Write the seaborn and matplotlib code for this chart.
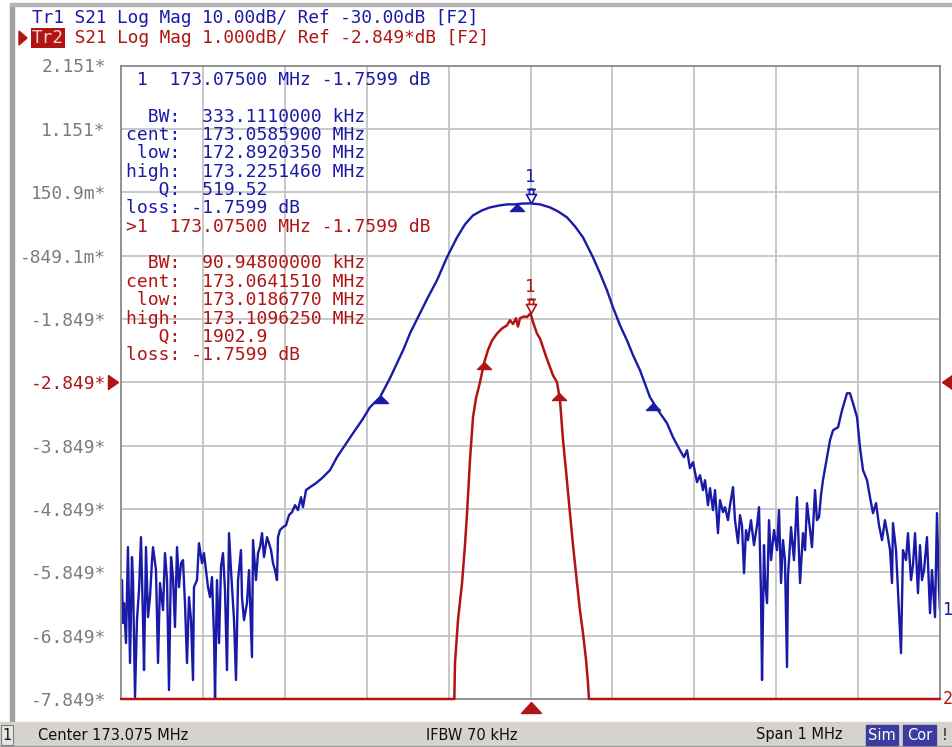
import numpy as np
import pandas as pd
import seaborn as sns
import matplotlib.pyplot as plt
from matplotlib.path import Path
from matplotlib.patches import Rectangle, Polygon

# ---------------- sweep / scale settings ----------------
start_mhz = 172.575
stop_mhz = 173.575
center_mhz = 173.075
n_div = 10
ref_pos = 5          # reference line, divisions from the bottom

tr1_ref, tr1_scale = -30.0, 10.0     # Tr1: 10 dB/div, ref -30 dB
tr2_ref, tr2_scale = -2.849, 1.0     # Tr2: 1 dB/div, ref -2.849 dB

ytick_labels = ["2.151*", "1.151*", "150.9m*", "-849.1m*", "-1.849*", "-2.849*",
                "-3.849*", "-4.849*", "-5.849*", "-6.849*", "-7.849*"]

# ---------------- Tr1 (blue) S21 trace ----------------
tr1_freq = [
    172.5750, 172.5762, 172.5774, 172.5787, 172.5811, 172.5835, 172.5860, 172.5884, 172.5897, 172.5921,
    172.5945, 172.5970, 172.5994, 172.6019, 172.6031, 172.6055, 172.6080, 172.6104, 172.6129, 172.6141,
    172.6177, 172.6202, 172.6226, 172.6263, 172.6287, 172.6312, 172.6336, 172.6361, 172.6385, 172.6409,
    172.6434, 172.6458, 172.6483, 172.6507, 172.6531, 172.6556, 172.6580, 172.6605, 172.6629, 172.6641,
    172.6678, 172.6702, 172.6739, 172.6763, 172.6788, 172.6812, 172.6837, 172.6861, 172.6886, 172.6898,
    172.6922, 172.6947, 172.6971, 172.6995, 172.7020, 172.7044, 172.7069, 172.7093, 172.7130, 172.7154,
    172.7179, 172.7215, 172.7227, 172.7252, 172.7288, 172.7313, 172.7349, 172.7362, 172.7398, 172.7423,
    172.7447, 172.7472, 172.7496, 172.7533, 172.7557, 172.7582, 172.7606, 172.7630, 172.7655, 172.7667,
    172.7691, 172.7728, 172.7765, 172.7801, 172.7838, 172.7875, 172.7911, 172.7948, 172.7972, 172.8009,
    172.8058, 172.8131, 172.8204, 172.8302,
    172.8387, 172.8485, 172.8583, 172.8693, 172.8790, 172.8912, 172.9034, 172.9120, 172.9205, 172.9279,
    172.9401, 172.9498, 172.9608, 172.9730, 172.9853, 172.9950, 173.0048, 173.0158, 173.0255, 173.0378,
    173.0463, 173.0561, 173.0646, 173.0750, 173.0866, 173.0988, 173.1086, 173.1196, 173.1293, 173.1391,
    173.1513, 173.1599, 173.1684, 173.1757, 173.1843, 173.1928, 173.2002, 173.2087, 173.2209, 173.2307,
    173.2417, 173.2490, 173.2575,
    173.2624, 173.2661, 173.2697, 173.2734, 173.2783, 173.2820, 173.2856, 173.2881, 173.2917, 173.2942,
    173.2978, 173.3003, 173.3039, 173.3064, 173.3100, 173.3125, 173.3161, 173.3186, 173.3223, 173.3247,
    173.3284, 173.3308, 173.3332, 173.3357, 173.3381, 173.3406, 173.3442, 173.3479, 173.3516, 173.3540,
    173.3564, 173.3577, 173.3601, 173.3613, 173.3638, 173.3662, 173.3687, 173.3723, 173.3760, 173.3784,
    173.3809, 173.3833, 173.3857, 173.3882, 173.3894, 173.3918, 173.3931, 173.3967, 173.4004, 173.4041,
    173.4077, 173.4102, 173.4126, 173.4163, 173.4187, 173.4224, 173.4248, 173.4273, 173.4297, 173.4321,
    173.4370, 173.4407, 173.4444, 173.4505, 173.4554, 173.4614, 173.4651, 173.4688, 173.4737, 173.4773,
    173.4810, 173.4859, 173.4895, 173.4932, 173.4969, 173.5005, 173.5042, 173.5078, 173.5115, 173.5140,
    173.5164, 173.5176, 173.5213, 173.5249, 173.5274, 173.5298, 173.5335, 173.5359, 173.5396, 173.5420,
    173.5445, 173.5481, 173.5506, 173.5530, 173.5555, 173.5591, 173.5628, 173.5652, 173.5689, 173.5713,
    173.5738, 173.5750,
]
tr1_db = [
    -62.81, -61.23, -68.01, -64.86, -71.17, -56.03, -74.32, -57.60, -61.23, -79.69,
    -67.54, -62.81, -54.45, -67.54, -75.43, -56.03, -67.07, -63.91, -58.08, -56.03,
    -59.65, -74.32, -61.70, -65.96, -56.97, -61.23, -78.58, -57.60, -60.76, -68.64,
    -56.03, -62.34, -58.55, -58.08, -64.86, -74.32, -63.91, -67.54, -77.00, -62.34,
    -61.23, -55.40, -58.55, -56.97, -59.65, -62.34, -63.91, -60.76, -70.22, -80.16,
    -61.23, -71.17, -59.18, -56.97, -62.81, -75.43, -53.82, -59.65, -67.54, -77.00,
    -61.23, -56.50, -63.91, -67.54, -64.86, -59.65, -73.38, -54.92, -61.23, -56.97,
    -56.03, -53.82, -57.60, -54.45, -55.40, -56.50, -58.55, -59.65, -61.23, -54.45,
    -53.34, -52.87, -52.56, -50.98, -50.50, -49.40, -50.19, -48.14, -49.72, -47.03,
    -46.56, -45.93, -45.14, -43.88,
    -41.83, -39.94, -38.04, -35.99, -33.94, -32.37, -29.37, -27.00, -24.64, -22.27,
    -19.12, -16.59, -13.91, -10.28, -7.13, -5.08, -3.66, -2.87, -2.40, -2.08,
    -1.92, -1.92, -1.80, -1.76, -1.92, -2.40, -3.03, -3.98, -5.39, -7.13,
    -10.28, -12.81, -15.49, -18.17, -21.01, -23.38, -25.74, -28.11, -32.37, -34.42,
    -36.47, -38.68, -40.73,
    -41.83, -40.73, -43.56, -42.62, -45.77, -44.67, -47.03, -45.46, -49.40, -46.72,
    -50.19, -47.03, -53.82, -48.61, -50.50, -49.72, -51.77, -49.40, -46.56, -51.77,
    -55.40, -50.98, -52.56, -60.13, -53.34, -54.92, -51.77, -55.71, -52.56, -49.72,
    -63.28, -77.00, -55.71, -61.23, -64.86, -51.77, -58.08, -53.34, -56.50, -50.19,
    -61.70, -54.92, -58.08, -74.95, -60.44, -55.71, -52.87, -58.08, -48.14, -61.70,
    -53.82, -56.50, -49.09, -53.34, -56.03, -47.03, -51.77, -51.29, -47.82, -45.46,
    -41.83, -39.15, -37.57, -37.10, -34.42, -31.74, -31.74, -33.31, -35.52, -40.25,
    -43.88, -45.46, -48.14, -50.66, -49.09, -52.56, -54.92, -51.77, -54.45, -56.50,
    -61.70, -52.24, -56.50, -65.96, -72.75, -56.50, -58.08, -53.82, -61.23, -58.86,
    -53.82, -63.28, -55.71, -61.23, -59.65, -54.45, -66.44, -59.65, -67.07, -50.66,
    -62.81, -65.96,
]

# ---------------- Tr2 (red) S21 trace ----------------
tr2_freq = [
    172.5750, 172.9820, 172.9828, 172.9865, 172.9914, 172.9950, 172.9975, 173.0011, 173.0048, 173.0085,
    173.0133, 173.0182, 173.0231, 173.0280, 173.0341, 173.0402, 173.0463, 173.0500, 173.0536, 173.0573,
    173.0597, 173.0622, 173.0671, 173.0707, 173.0750, 173.0781, 173.0829, 173.0866, 173.0903, 173.0939,
    173.0988, 173.1025, 173.1074, 173.1110, 173.1147, 173.1183, 173.1232, 173.1269, 173.1318, 173.1354,
    173.1391, 173.1428, 173.1452, 173.1464, 173.5750,
]
tr2_db = [
    -10.00, -10.00, -7.28, -6.60, -6.02, -5.42, -4.92, -4.08, -3.40, -3.10,
    -2.85, -2.55, -2.34, -2.19, -2.08, -2.00, -1.95, -1.87, -1.93, -1.84,
    -1.97, -1.84, -1.81, -1.82, -1.76, -1.90, -2.08, -2.16, -2.30, -2.44,
    -2.61, -2.74, -2.85, -3.13, -3.76, -4.24, -4.92, -5.42, -6.02, -6.45,
    -6.81, -7.23, -7.60, -10.00, -10.00,
]

# ---------------- marker readouts ----------------
marker1_mhz = 173.075
marker1_db = -1.7599
tr1_bw = {"low": 172.8920350, "cent": 173.0585900, "high": 173.2251460}
tr2_bw = {"low": 173.0186770, "cent": 173.0641510, "high": 173.1096250}

tr1_lines = [" 1  173.07500 MHz -1.7599 dB", "",
             "  BW:  333.1110000 kHz", "cent:  173.0585900 MHz", " low:  172.8920350 MHz",
             "high:  173.2251460 MHz", "   Q:  519.52", "loss: -1.7599 dB"]
tr2_lines = [">1  173.07500 MHz -1.7599 dB", "",
             "  BW:  90.94800000 kHz", "cent:  173.0641510 MHz", " low:  173.0186770 MHz",
             "high:  173.1096250 MHz", "   Q:  1902.9", "loss: -1.7599 dB"]

blue = "#1a1aa8"
red = "#b01414"
grey_txt = "#7c7c7c"

sns.set_style("white")
plt.rcParams["font.family"] = ["DejaVu Sans Mono", "DejaVu Sans"]

W, H = 952, 747


def fx(x):
    return x / W


def fy(y):
    return 1 - y / H


fig = plt.figure(figsize=(W / 100, H / 100), dpi=100)
ax = fig.add_axes([fx(121), fy(699), (940 - 121) / W, (699 - 65.5) / H])
ax2 = ax.twinx()
ax.set_zorder(ax2.get_zorder() + 1)
ax.patch.set_visible(False)
ax2.xaxis.set_visible(True)

# axis limits (same grid for both traces)
tr1_lo = tr1_ref - ref_pos * tr1_scale
tr1_hi = tr1_ref + (n_div - ref_pos) * tr1_scale
tr2_lo = tr2_ref - ref_pos * tr2_scale
tr2_hi = tr2_ref + (n_div - ref_pos) * tr2_scale
ax.set_xlim(start_mhz, stop_mhz)
ax.set_ylim(tr2_lo, tr2_hi)
ax2.set_ylim(tr1_lo, tr1_hi)

xt = np.linspace(start_mhz, stop_mhz, n_div + 1)
ax2.set_xticks(xt)
ax.set_xticks(xt)
ax2.set_yticks(np.linspace(tr1_lo, tr1_hi, n_div + 1))
ax2.grid(True, color="#c4c4c4", lw=1.3)
ax2.tick_params(length=0, labelbottom=False, labelright=False)
ax.tick_params(axis="x", length=0, labelbottom=False)

yt = np.linspace(tr2_hi, tr2_lo, n_div + 1)
ax.set_yticks(yt)
ax.set_yticklabels(ytick_labels)
ax.tick_params(axis="y", length=0, pad=11, labelsize=12.9, labelcolor=grey_txt)
ax.get_yticklabels()[ref_pos].set_color(red)

for a in (ax, ax2):
    for s in a.spines.values():
        s.set_color("#8a8a8a")
        s.set_linewidth(1.3)
for s in ax2.spines.values():
    s.set_visible(False)

# traces
df1 = pd.DataFrame({"freq": tr1_freq, "db": np.clip(tr1_db, tr1_lo, tr1_hi)})
df2 = pd.DataFrame({"freq": tr2_freq, "db": np.clip(tr2_db, tr2_lo, tr2_hi)})
sns.lineplot(data=df1, x="freq", y="db", ax=ax2, color=blue, lw=1.7, sort=False, estimator=None)
sns.lineplot(data=df2, x="freq", y="db", ax=ax, color=red, lw=1.8, sort=False, estimator=None)
ax.lines[-1].set_clip_on(False)
ax.lines[-1].set_zorder(3)
ax.set_xlabel("")
ax.set_ylabel("")
ax2.set_ylabel("")

# marker symbols
mk_verts = [(0, 0), (-5, 9), (5, 9), (0, 0), (-2, 9), (-2, 14), (2, 14), (2, 9), (-4.5, 14), (4.5, 14)]
mk_codes = [Path.MOVETO, Path.LINETO, Path.LINETO, Path.CLOSEPOLY,
            Path.MOVETO, Path.LINETO, Path.LINETO, Path.LINETO, Path.MOVETO, Path.LINETO]
mk_path = Path(mk_verts, mk_codes)
up_tri = Path([(0, 0), (-7, -7), (7, -7), (0, 0)])

for a, col, bw, fr, db in ((ax2, blue, tr1_bw, tr1_freq, tr1_db),
                           (ax, red, tr2_bw, tr2_freq, tr2_db)):
    a.plot([marker1_mhz], [np.interp(marker1_mhz, fr, db)], marker=mk_path, ms=20.2,
           mfc="white", mec=col, mew=1.2, ls="none", zorder=5)
    a.annotate("1", (marker1_mhz, np.interp(marker1_mhz, fr, db)), xytext=(0, 19),
               textcoords="offset points", ha="center", va="center", color=col, fontsize=12.5)
    keys = ["low", "high"] + (["cent"] if col == blue else [])
    xs = [bw[k] for k in keys]
    a.plot(xs, np.interp(xs, fr, db), marker=up_tri, ms=10.1, color=col, ls="none", zorder=5)

# reference position arrows and stimulus arrow
left_tri = Path([(0, 0), (-10, 7), (-10, -7), (0, 0)])
right_tri = Path([(0, 0), (10, 7), (10, -7), (0, 0)])
bot_tri = Path([(0, 0), (-10, -11), (10, -11), (0, 0)])
ax.plot([-3 / 819], [tr2_ref], transform=ax.get_yaxis_transform(), marker=left_tri, ms=14.4,
        color=red, clip_on=False, ls="none")
ax.plot([1 + 2 / 819], [tr2_ref], transform=ax.get_yaxis_transform(), marker=right_tri, ms=14.4,
        color=red, clip_on=False, ls="none")
ax.plot([marker1_mhz], [-3 / 633.5], transform=ax.get_xaxis_transform(), marker=bot_tri, ms=15.8,
        color=red, clip_on=False, ls="none")

# trace end labels
ax2.text(1.003, np.clip(tr1_db[-1], tr1_lo, tr1_hi), "1", transform=ax2.get_yaxis_transform(),
         color=blue, fontsize=12, va="center", ha="left")
ax.text(1.003, np.clip(tr2_db[-1], tr2_lo, tr2_hi), "2", transform=ax.get_yaxis_transform(),
        color=red, fontsize=12, va="center", ha="left", clip_on=False)

# marker readout text
for i, line in enumerate(tr1_lines + tr2_lines):
    col = blue if i < len(tr1_lines) else red
    fig.text(fx(126), fy(80 + i * 18.35), line, color=col, fontsize=13, va="center", ha="left")

# header
fig.text(fx(32), fy(18), "Tr1 S21 Log Mag 10.00dB/ Ref -30.00dB [F2]", color=blue,
         fontsize=12.8, va="center", ha="left")
fig.text(fx(32), fy(38), "Tr2", color="#f0d0d0", fontsize=12.8, va="center", ha="left",
         bbox=dict(boxstyle="square,pad=0.08", fc=red, ec="none"))
fig.text(fx(32 + 3 * 10.7), fy(38), " S21 Log Mag 1.000dB/ Ref -2.849*dB [F2]", color=red,
         fontsize=12.8, va="center", ha="left")
fig.add_artist(Polygon([(fx(19), fy(31)), (fx(19), fy(45)), (fx(27), fy(38))],
                       closed=True, color=red, transform=fig.transFigure))

# window chrome
fig.add_artist(Rectangle((fx(10), fy(722)), fx(4), fy(6) - fy(722), color="#a0a0a0",
                         transform=fig.transFigure))
fig.add_artist(Rectangle((fx(10), fy(6)), fx(942), fy(3) - fy(6), color="#b4b4b4",
                         transform=fig.transFigure))

# status bar
fig.add_artist(Rectangle((0, 0), 1, fy(722), color="#d6d3ce", transform=fig.transFigure))
fig.add_artist(Rectangle((0, 0), 1, fy(721) - fy(722), color="#9a9a9a", transform=fig.transFigure))
fig.add_artist(Rectangle((fx(1), fy(745)), fx(12), fy(725) - fy(745), fc="#e8e6e2", ec="#808080",
                         lw=0.8, transform=fig.transFigure))
sb = dict(fontsize=10.5, family=["DejaVu Sans"], va="center", color="#101010")
fig.text(fx(7), fy(735), "1", ha="center", **sb)
fig.text(fx(38), fy(735), "Center 173.075 MHz", ha="left", **sb)
fig.text(fx(472), fy(735), "IFBW 70 kHz", ha="center", **sb)
fig.text(fx(842), fy(735), "Span 1 MHz", ha="right", **sb)
for x0, x1, t in ((866, 898, "Sim"), (903, 936, "Cor")):
    fig.add_artist(Rectangle((fx(x0), fy(745)), fx(x1 - x0), fy(725) - fy(745), color="#3c3ca0",
                             transform=fig.transFigure))
    fig.text(fx((x0 + x1) / 2), fy(735), t, ha="center", fontsize=10.5, family=["DejaVu Sans"],
             va="center", color="white")
fig.text(fx(945), fy(735), "!", ha="center", **sb)

fig.savefig("out.png", dpi=100)
